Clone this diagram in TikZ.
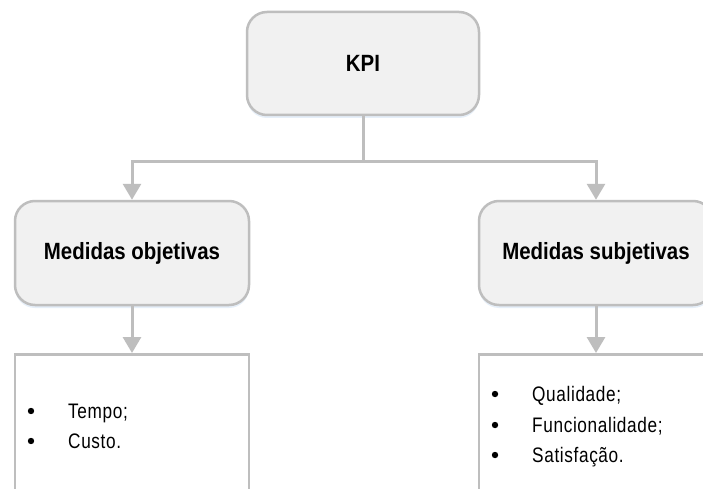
\documentclass[tikz,border=0pt]{standalone}
\usepackage{fontspec}
\setmainfont{Liberation Sans}
\newfontfamily\headfont[FakeStretch=0.87]{Liberation Sans}
\newfontfamily\listfont[FakeStretch=0.82,LetterSpace=3]{Liberation Sans}
\usetikzlibrary{arrows.meta,shadows}
\definecolor{edgegray}{HTML}{BEBEBE}
\definecolor{boxfill}{HTML}{F1F1F1}
\definecolor{glow}{HTML}{9FC3E8}
\tikzset{
  headbox/.style={draw=edgegray, line width=2.5pt, fill=boxfill, rounded corners=20pt,
    minimum width=232pt, minimum height=103pt, inner sep=0pt,
    font=\headfont\bfseries\fontsize{23.5}{27}\selectfont,
    drop shadow={fill=glow, opacity=0.25, shadow xshift=0pt, shadow yshift=-3pt}},
  listbox/.style={draw=edgegray, line width=2.5pt, fill=white,
    minimum width=234pt, minimum height=170pt, inner sep=0pt},
  conn/.style={draw=edgegray, line width=3pt,
    -{Triangle[length=16pt,width=18pt]}},
  item/.style={anchor=base west, inner sep=0pt, font=\listfont\fontsize{21}{24}\selectfont},
  dot/.style={fill=black}
}
\begin{document}
\begin{tikzpicture}[x=1pt,y=-1pt]
\useasboundingbox (0,0) rectangle (703,489);
\clip (0,0) rectangle (703,489);
\fill[white] (0,0) rectangle (703,489);

% top level
\node[headbox] (kpi) at (363,63.5) {KPI};

% two categories
\node[headbox, minimum width=234pt, minimum height=104pt] (obj) at (132,253) {Medidas objetivas};
\node[headbox, minimum width=234pt, minimum height=104pt] (subj) at (596,253) {Medidas subjetivas};

% detail boxes (running off the lower edge)
\node[listbox, anchor=north] (objlist) at (132,353) {};
\node[listbox, anchor=north] (subjlist) at (596,353) {};

% branch connectors
\draw[conn] (kpi.south) -- ++(0,45) -| (obj.north);
\draw[conn] (kpi.south) -- ++(0,45) -| (subj.north);
\draw[conn] (obj.south) -- (objlist.north);
\draw[conn] (subj.south) -- (subjlist.north);

% objective measures
\fill[dot] (31,411) circle (3.2pt);
\node[item] (tempo) at (68,418) {Tempo;};
\fill[dot] (31,441) circle (3.2pt);
\node[item] (custo) at (68,448) {Custo.};

% subjective measures
\fill[dot] (495,394) circle (3.2pt);
\node[item] (qual) at (532,401) {Qualidade;};
\fill[dot] (495,425) circle (3.2pt);
\node[item] (func) at (532,432) {Funcionalidade;};
\fill[dot] (495,455) circle (3.2pt);
\node[item] (sat) at (532,462) {Satisfação.};
\end{tikzpicture}
\end{document}
